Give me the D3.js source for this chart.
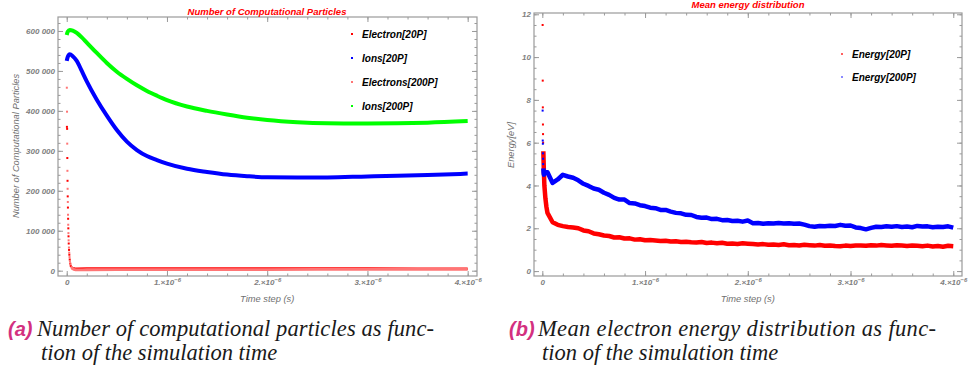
<!DOCTYPE html>
<html lang="en">
<head>
<meta charset="UTF-8">
<title>Computational particles and mean energy</title>
<script src="https://d3js.org/d3.v7.min.js"></script>
<style>
body { margin: 0; background: #fff; }
svg text { font-family: "Liberation Sans", Arial, sans-serif; }
.tick text { fill: #808080; font-size: 8px; font-weight: bold; font-style: italic; }
.tick line { stroke: #9a9a9a; }
.title { fill: #ff0000; font-size: 9.5px; font-weight: bold; font-style: italic; }
.axis-label { fill: #707070; font-size: 9.3px; font-style: italic; }
.legend { fill: #000; font-size: 10px; font-weight: bold; font-style: italic; }
.caption { font-family: "Liberation Serif", serif; font-style: italic; font-size: 22.5px; fill: #1a1a1a; }
.caption-tag { font-family: "Liberation Sans", sans-serif; font-weight: bold; font-style: italic; fill: #d3307f; font-size: 20px; }
</style>
</head>
<body>
<svg id="chart" width="972" height="378"></svg>
<script>
// ---------- left panel: number of particles (time in units of 1e-6 s)
var ionTime = [0, 0.01, 0.03, 0.06, 0.1, 0.15, 0.2, 0.3, 0.4, 0.5, 0.6, 0.7, 0.8, 0.9, 1.0,
    1.2, 1.4, 1.6, 1.8, 2.0, 2.3, 2.6, 3.0, 3.3, 3.6, 4.0];
var ions20P = [525000, 535000, 541500, 537000, 525000, 500000, 474000, 428000, 388000, 352000,
    323000, 302000, 287000, 277000, 268000, 255000, 247000, 240500, 236500, 234000, 233500,
    233500, 236000, 237500, 239500, 243000];
var ions200P = [590000, 598000, 602500, 601000, 595000, 584000, 571000, 545000, 520000, 498000,
    480000, 464000, 450000, 438000, 427000, 411000, 400000, 391000, 383000, 377000, 371500,
    369000, 368500, 369000, 370500, 374500];

var electron20PTime = [0.002, 0.004, 0.006, 0.008, 0.010, 0.012, 0.014, 0.016, 0.018, 0.020,
    0.023, 0.026, 0.030, 0.035, 0.040, 0.050, 0.060, 0.080, 0.10, 0.20, 0.50, 1.0, 1.5, 2.0,
    2.5, 3.0, 3.5, 4.0];
var electrons20P = [360000, 355000, 282000, 225000, 186000, 158000, 130000, 106000, 86000, 68000,
    52000, 40000, 28000, 18000, 12000, 7500, 5800, 5200, 5000, 5200, 5400, 5300, 5400, 5300,
    5200, 5100, 5000, 5000];
var electron200PTime = [0.001, 0.003, 0.005, 0.007, 0.009, 0.011, 0.013, 0.015, 0.017, 0.019,
    0.022, 0.025, 0.028, 0.032, 0.037, 0.045, 0.055, 0.07, 0.09, 0.12, 0.16, 0.2, 0.5, 1.0,
    1.5, 2.0, 2.5, 3.0, 3.5, 4.0];
var electrons200P = [458000, 398000, 318000, 250000, 205000, 172000, 140000, 115000, 94000, 76000,
    58000, 45000, 34000, 24000, 16000, 10000, 6000, 3200, 2200, 1800, 2000, 2400, 2600, 2700,
    2800, 2900, 3200, 3400, 3400, 3500];

// ---------- right panel: mean energy [eV]
var energyTime = [0.003, 0.004, 0.005, 0.006, 0.007, 0.008, 0.010, 0.012, 0.015, 0.020, 0.030, 0.040,
    0.05, 0.10, 0.15, 0.20, 0.25, 0.30, 0.35, 0.40, 0.45, 0.50, 0.55, 0.60, 0.65, 0.70, 0.75, 0.80,
    0.85, 0.90, 0.95, 1.00, 1.05, 1.10, 1.15, 1.20, 1.25, 1.30, 1.35, 1.40, 1.45, 1.50, 1.55, 1.60,
    1.65, 1.70, 1.75, 1.80, 1.85, 1.90, 1.95, 2.00, 2.05, 2.10, 2.15, 2.20, 2.25, 2.30, 2.35, 2.40,
    2.45, 2.50, 2.55, 2.60, 2.65, 2.70, 2.75, 2.80, 2.85, 2.90, 2.95, 3.00, 3.05, 3.10, 3.15, 3.20,
    3.25, 3.30, 3.35, 3.40, 3.45, 3.50, 3.55, 3.60, 3.65, 3.70, 3.75, 3.80, 3.85, 3.90, 3.95, 4.00];
var energy20P = [11.5, 8.9, 7.65, 6.85, 6.4, 6.0, 5.6, 5.2, 4.7, 4.0, 3.4, 3.0,
    2.72, 2.28, 2.16, 2.10, 2.06, 2.04, 2.00, 1.90, 1.86, 1.76, 1.72, 1.66, 1.64, 1.57, 1.58, 1.52,
    1.53, 1.47, 1.49, 1.44, 1.45, 1.43, 1.41, 1.42, 1.38, 1.39, 1.36, 1.37, 1.35, 1.34, 1.36, 1.31,
    1.33, 1.30, 1.32, 1.28, 1.29, 1.27, 1.30, 1.28, 1.26, 1.24, 1.26, 1.23, 1.24, 1.22, 1.25, 1.21,
    1.22, 1.20, 1.23, 1.21, 1.19, 1.22, 1.18, 1.20, 1.17, 1.16, 1.19, 1.17, 1.19, 1.20, 1.18, 1.21,
    1.19, 1.22, 1.20, 1.18, 1.21, 1.19, 1.17, 1.20, 1.18, 1.16, 1.19, 1.15, 1.17, 1.14, 1.18, 1.16];
var energy200P = [7.5, 6.1, 5.95, 5.5, 5.25, 5.0, 4.8, 4.6, 4.5, 4.55, 4.6, 4.62,
    4.62, 4.12, 4.28, 4.50, 4.42, 4.36, 4.24, 4.08, 3.98, 3.86, 3.80, 3.66, 3.56, 3.42, 3.34, 3.34,
    3.18, 3.16, 3.08, 3.04, 2.96, 2.94, 2.86, 2.86, 2.78, 2.72, 2.70, 2.63, 2.62, 2.53, 2.49, 2.50,
    2.43, 2.44, 2.38, 2.39, 2.34, 2.35, 2.31, 2.36, 2.24, 2.25, 2.21, 2.24, 2.22, 2.25, 2.22, 2.24,
    2.21, 2.22, 2.17, 2.10, 2.07, 2.11, 2.09, 2.12, 2.11, 2.16, 2.12, 2.13, 2.04, 2.01, 1.95, 2.02,
    2.07, 2.06, 2.09, 2.07, 2.10, 2.06, 2.08, 2.05, 2.11, 2.08, 2.09, 2.05, 2.07, 2.06, 2.09, 2.03];

// ---------- ticks, labels
var timeTicks = [0, 1, 2, 3, 4];
var timeTickLabels = ["0", "1.\u00d710", "2.\u00d710", "3.\u00d710", "4.\u00d710"];
var timeExponent = "\u22126";
var particleTicks = [0, 100000, 200000, 300000, 400000, 500000, 600000];
var particleTickLabels = ["0", "100 000", "200 000", "300 000", "400 000", "500 000", "600 000"];
var energyTicks = [0, 2, 4, 6, 8, 10, 12];
var energyTickLabels = ["0", "2", "4", "6", "8", "10", "12"];

var leftLegend = ["Electron[20P]", "Ions[20P]", "Electrons[200P]", "Ions[200P]"];
var rightLegend = ["Energy[20P]", "Energy[200P]"];

var svg = d3.select("#chart");
svg.append("rect").attr("width", 972).attr("height", 378).attr("fill", "#fff");

function makePanel(p) {
    var g = svg.append("g");
    var x = d3.scaleLinear().domain(p.xDomain).range([p.left, p.right]);
    var y = d3.scaleLinear().domain(p.yDomain).range([p.bottom, p.top]);

    // frame ticks, Mathematica style: inward, on every side
    function ax(gen, tx, ty, vals, size, labels) {
        var a = gen.tickValues(vals).tickSize(size).tickPadding(3);
        a.tickFormat(labels ? function(d, i) { return labels[i]; } : "");
        var s = g.append("g").attr("transform", "translate(" + tx + "," + ty + ")").call(a);
        s.select(".domain").remove();
        return s;
    }
    var xMinor = d3.range(0, 4.01, 0.2);
    var yMinor = d3.range(0, p.yDomain[1], p.yMinorStep);

    var bottom = ax(d3.axisBottom(x), 0, p.bottom, timeTicks, -5, timeTickLabels);
    bottom.selectAll(".tick text").filter(function(d) { return d !== 0; })
        .append("tspan").attr("dy", "-0.45em").style("font-size", "6px").text(timeExponent);
    ax(d3.axisBottom(x), 0, p.bottom, xMinor, -2.5, null);
    ax(d3.axisTop(x), 0, p.top, timeTicks, -5, null).selectAll("text").remove();
    ax(d3.axisTop(x), 0, p.top, xMinor, -2.5, null);
    ax(d3.axisLeft(y), p.left, 0, p.yTicks, -5, p.yTickLabels);
    ax(d3.axisLeft(y), p.left, 0, yMinor, -2.5, null);
    ax(d3.axisRight(y), p.right, 0, p.yTicks, -5, null).selectAll("text").remove();
    ax(d3.axisRight(y), p.right, 0, yMinor, -2.5, null);

    g.append("rect")
        .attr("x", p.left).attr("y", p.top)
        .attr("width", p.right - p.left).attr("height", p.bottom - p.top)
        .attr("fill", "none").attr("stroke", "#9a9a9a").attr("stroke-width", 1.2);

    g.append("text").attr("class", "title")
        .attr("x", p.titleX).attr("y", p.titleY).attr("text-anchor", "middle").text(p.title);
    g.append("text").attr("class", "axis-label")
        .attr("x", (x(0) + x(4)) / 2).attr("y", 302).attr("text-anchor", "middle")
        .text("Time step (s)");
    g.append("text").attr("class", "axis-label")
        .attr("transform", "translate(" + p.yLabelX + "," + p.yLabelY + ") rotate(-90)")
        .attr("text-anchor", "middle").text(p.yLabel);

    var plot = g.append("g");
    p.series.forEach(function(s) {
        var pts = s.t.map(function(t, i) { return [t, s.v[i]]; });
        var linePts = pts.filter(function(d) { return d[0] >= s.lineFrom; });
        plot.append("path").datum(linePts)
            .attr("fill", "none").attr("stroke", s.color).attr("stroke-width", s.width)
            .attr("stroke-linejoin", "round")
            .attr("d", d3.line().x(function(d) { return x(d[0]); }).y(function(d) { return y(d[1]); })
                .curve(s.curve || d3.curveLinear));
        plot.selectAll(null).data(pts.filter(function(d) { return d[0] < s.lineFrom; }))
            .enter().append("rect")
            .attr("x", function(d) { return x(d[0]) - 1; })
            .attr("y", function(d) { return y(d[1]) - 1; })
            .attr("width", 2).attr("height", 2).attr("fill", s.color);
    });

    var lg = g.append("g");
    p.legend.forEach(function(name, i) {
        var cy = p.legendY[i];
        lg.append("rect").attr("x", p.legendX - 1).attr("y", cy - 1)
            .attr("width", 2).attr("height", 2).attr("fill", p.legendColors[i]);
        lg.append("text").attr("class", "legend")
            .attr("x", p.legendX + 10).attr("y", cy + 3.5).text(name);
    });
}

makePanel({
    left: 58, right: 477, top: 17, bottom: 276,
    xDomain: [-0.087, 4.093], yDomain: [-13300, 635000],
    yTicks: particleTicks, yTickLabels: particleTickLabels, yMinorStep: 20000,
    title: "Number  of Computational Particles", titleX: 267, titleY: 15,
    yLabel: "Number  of Computational Particles", yLabelX: 19, yLabelY: 146,
    series: [
        { t: electron20PTime, v: electrons20P, color: "#ff0000", width: 2.6, lineFrom: 0.045 },
        { t: ionTime, v: ions20P, color: "#0000ff", width: 4, lineFrom: 0, curve: d3.curveMonotoneX },
        { t: electron200PTime, v: electrons200P, color: "#ff7575", width: 2.8, lineFrom: 0.04 },
        { t: ionTime, v: ions200P, color: "#00ff00", width: 4, lineFrom: 0, curve: d3.curveMonotoneX }
    ],
    legend: leftLegend, legendX: 352, legendY: [34, 58, 82, 106],
    legendColors: ["#ff0000", "#0000ff", "#ff7575", "#00ff00"]
});

makePanel({
    left: 534, right: 962, top: 13, bottom: 276,
    xDomain: [-0.081, 4.085], yDomain: [-0.23, 12.06],
    yTicks: energyTicks, yTickLabels: energyTickLabels, yMinorStep: 0.5,
    title: "Mean energy distribution", titleX: 748, titleY: 7.5,
    yLabel: "Energy[eV]", yLabelX: 514, yLabelY: 145,
    series: [
        { t: energyTime, v: energy20P, color: "#ff0000", width: 4.5, lineFrom: 0.009 },
        { t: energyTime, v: energy200P, color: "#0000ff", width: 4.5, lineFrom: 0.009 }
    ],
    legend: rightLegend, legendX: 842, legendY: [54, 77],
    legendColors: ["#ff6060", "#8a8aff"]
});

// ---------- captions
var captions = [
    { x: 8, tag: "(a)", lines: ["Number of computational particles as func-", "tion of the simulation time"], w: 397 },
    { x: 509, tag: "(b)", lines: ["Mean electron energy distribution as func-", "tion of the simulation time"], w: 398 }
];
captions.forEach(function(c) {
    svg.append("text").attr("class", "caption caption-tag").attr("x", c.x).attr("y", 336).text(c.tag);
    svg.append("text").attr("class", "caption").attr("x", c.x + 29).attr("y", 336)
        .attr("textLength", c.w).attr("lengthAdjust", "spacing").text(c.lines[0]);
    svg.append("text").attr("class", "caption").attr("x", c.x + 33).attr("y", 360).text(c.lines[1]);
});
</script>
</body>
</html>
